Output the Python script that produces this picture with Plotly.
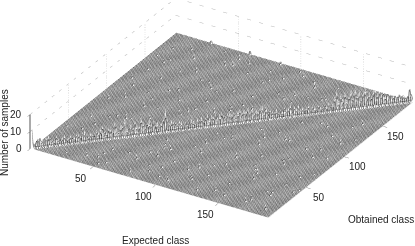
import plotly.graph_objects as go

N_CLASSES = 190
class_axis = list(range(1, N_CLASSES + 1))
class_ticks = [50, 100, 150]
count_ticks = [0, 10, 20]
expected_title = "Expected class"
obtained_title = "Obtained class"
count_title = "Number of samples"

# Diagonal of the confusion matrix, read along the ridge (190 values)
diagonal = [
    11, 3, 5, 7, 8, 5, 3, 6, 7, 5, 4, 3, 6, 4, 3, 5, 6, 3, 4, 5,
    3, 4, 6, 5, 4, 6, 7, 4, 3, 5, 4, 3, 6, 5, 7, 9, 5, 4, 7, 6,
    5, 10, 6, 4, 8, 7, 11, 5, 6, 8, 5, 9, 7, 6, 11, 8, 5, 7, 9, 6,
    8, 5, 7, 4, 6, 9, 14, 8, 5, 7, 6, 5, 4, 6, 5, 4, 5, 3, 4, 6,
    5, 4, 6, 5, 7, 4, 6, 8, 5, 7, 6, 8, 5, 7, 8, 6, 5, 7, 8, 6,
    7, 5, 8, 9, 6, 8, 7, 9, 6, 8, 5, 7, 6, 8, 9, 5, 7, 4, 6, 5,
    4, 6, 3, 5, 4, 7, 5, 6, 8, 4, 6, 5, 7, 4, 5, 3, 4, 6, 3, 5,
    4, 3, 5, 4, 3, 5, 4, 6, 3, 5, 9, 13, 6, 10, 7, 11, 6, 9, 12, 7,
    13, 8, 11, 6, 10, 12, 7, 9, 6, 10, 12, 8, 11, 7, 9, 6, 10, 7, 8, 5,
    7, 6, 8, 5, 6, 4, 5, 12, 6, 4,
]

# Samples just behind the diagonal (obtained = expected + 1), read along the ridge
behind_diagonal = [
    2, 1, 3, 0, 2, 1, 2, 0, 1, 3, 1, 0, 2, 1, 2, 0, 1, 2, 0, 1,
    3, 0, 1, 2, 1, 3, 0, 2, 1, 0, 2, 1, 3, 1, 0, 2, 3, 1, 0, 2,
    1, 3, 2, 0, 1, 4, 2, 0, 3, 1, 2, 4, 0, 1, 3, 2, 1, 4, 0, 2,
    1, 3, 0, 2, 1, 4, 3, 0, 2, 1, 0, 3, 1, 2, 0, 1, 2, 0, 3, 1,
    0, 2, 1, 3, 0, 1, 2, 3, 0, 2, 1, 3, 2, 0, 1, 3, 2, 1, 0, 2,
    3, 1, 0, 2, 3, 1, 2, 0, 3, 1, 2, 0, 1, 3, 2, 0, 1, 2, 0, 1,
    2, 0, 1, 3, 0, 2, 1, 0, 2, 3, 1, 0, 2, 1, 0, 2, 1, 0, 1, 2,
    0, 1, 2, 0, 1, 3, 0, 2, 1, 0, 3, 4, 1, 3, 2, 4, 0, 3, 4, 1,
    4, 2, 3, 1, 4, 2, 3, 1, 3, 4, 2, 1, 3, 2, 4, 1, 2, 3, 1, 2,
    0, 2, 1, 3, 0, 1, 2, 3, 1,
]

# Samples just in front of the diagonal (obtained = expected - 1)
front_diagonal = [
    1, 0, 2, 3, 0, 1, 2, 0, 3, 1, 0, 2, 1, 3, 0, 1, 2, 0, 1, 3,
    0, 2, 1, 0, 3, 1, 2, 0, 1, 2, 3, 0, 1, 2, 4, 0, 1, 3, 2, 0,
    4, 1, 2, 0, 3, 2, 1, 3, 0, 2, 4, 1, 0, 3, 2, 1, 3, 0, 2, 4,
    0, 1, 3, 2, 0, 1, 5, 2, 0, 3, 1, 2, 0, 1, 3, 0, 1, 2, 0, 1,
    3, 0, 2, 1, 0, 3, 2, 0, 1, 3, 2, 0, 1, 4, 0, 2, 3, 1, 0, 4,
    2, 0, 3, 1, 2, 0, 4, 1, 3, 0, 2, 1, 3, 0, 1, 2, 0, 3, 1, 0,
    1, 2, 0, 1, 3, 0, 1, 2, 0, 3, 1, 0, 2, 1, 0, 1, 2, 0, 1, 0,
    2, 1, 0, 2, 1, 0, 1, 3, 0, 2, 4, 1, 3, 0, 4, 2, 3, 1, 4, 2,
    5, 1, 3, 2, 4, 0, 3, 2, 1, 4, 3, 0, 2, 4, 1, 3, 0, 2, 1, 3,
    0, 1, 2, 0, 2, 1, 0, 3, 1,
]

# Off-diagonal spikes read from the floor: expected, obtained, samples
off_expected = [
    29, 60, 85, 12, 18, 25, 33, 41, 47, 52, 58, 64, 70, 77, 83, 90, 96, 103, 110, 118,
    124, 131, 139, 146, 153, 160, 168, 175, 182, 15, 22, 36, 44, 55, 62, 73, 88, 99, 107, 115,
    127, 135, 143, 151, 158, 166, 172, 179, 8, 30, 48, 66, 81, 94, 112, 129, 148, 163, 177, 186,
    20, 39, 57, 75, 92, 108, 122, 141, 156, 171, 10, 27, 50, 68, 86, 101, 120, 137, 155, 174,
    5, 14, 23, 31, 38, 45, 53, 61, 69, 76, 84, 91, 98, 105, 113, 121, 128, 136, 144, 152,
    159, 167, 176, 184, 9, 17, 26, 34, 43, 51, 59, 67, 74, 82, 89, 97, 104, 111, 119, 126,
    134, 142, 149, 157, 165, 173, 181, 188, 6, 16, 28, 37, 46, 56, 65, 72, 80, 87, 95, 102,
    109, 117, 125, 133, 140, 147, 154, 162, 170, 178, 185, 11, 24, 35, 49, 63, 78, 93, 106, 116,
]
off_obtained = [
    189, 189, 188, 60, 95, 130, 40, 150, 20, 110, 170, 75, 25, 140, 48, 165, 12, 55, 128, 178,
    30, 85, 15, 100, 42, 70, 120, 28, 10, 150, 175, 90, 122, 10, 135, 38, 160, 68, 182, 22,
    62, 160, 100, 50, 130, 18, 88, 60, 120, 165, 78, 178, 108, 35, 148, 95, 12, 55, 145, 40,
    52, 118, 180, 8, 140, 30, 172, 72, 165, 100, 170, 70, 142, 105, 15, 125, 44, 162, 185, 32,
    40, 112, 66, 145, 12, 93, 168, 30, 118, 52, 176, 24, 84, 152, 36, 104, 9, 180, 58, 132,
    78, 16, 46, 124, 88, 155, 34, 70, 184, 6, 98, 134, 58, 22, 116, 172, 10, 82, 146, 50,
    106, 28, 164, 74, 12, 138, 92, 44, 156, 42, 108, 72, 14, 142, 100, 166, 36, 120, 60, 186,
    86, 20, 158, 44, 126, 54, 176, 96, 32, 114, 68, 136, 8, 102, 28, 94, 48, 126, 80, 156,
]
off_counts = [
    3, 4, 3, 2, 3, 2, 2, 3, 2, 2, 3, 2, 3, 2, 3, 2, 2, 3, 2, 2,
    2, 3, 2, 2, 3, 2, 2, 2, 3, 2, 2, 3, 2, 2, 3, 2, 2, 3, 2, 2,
    3, 2, 2, 3, 2, 2, 3, 2, 2, 3, 2, 2, 3, 2, 2, 3, 2, 2, 3, 2,
    2, 2, 3, 2, 2, 2, 3, 2, 2, 2, 1, 2, 1, 2, 1, 2, 1, 2, 1, 2,
    1, 2, 1, 1, 2, 1, 3, 1, 2, 1, 1, 2, 1, 1, 3, 1, 2, 1, 1, 2,
    1, 2, 1, 1, 2, 1, 1, 3, 1, 2, 1, 1, 2, 1, 1, 2, 3, 1, 1, 2,
    1, 1, 2, 1, 3, 1, 2, 1, 1, 2, 1, 1, 2, 1, 2, 1, 3, 1, 1, 2,
    1, 2, 1, 1, 2, 1, 1, 2, 1, 3, 1, 2, 1, 1, 2, 1, 1, 2, 1, 3,
]

matrix = [[0 for _ in class_axis] for _ in class_axis]
for i, v in enumerate(diagonal):
    matrix[i][i] = v
for i, v in enumerate(behind_diagonal):
    matrix[i + 1][i] = v
for i, v in enumerate(front_diagonal):
    matrix[i][i + 1] = v
for e, o, c in zip(off_expected, off_obtained, off_counts):
    matrix[o - 1][e - 1] = c

fig = go.Figure()
fig.add_trace(go.Surface(
    x=class_axis, y=class_axis, z=matrix,
    colorscale=[[0, "#ffffff"], [1, "#ffffff"]], showscale=False,
    lighting=dict(ambient=1, diffuse=0, specular=0, roughness=1, fresnel=0),
    contours=dict(
        x=dict(show=True, start=1, end=N_CLASSES, size=1, color="#3c3c3c", width=1),
        y=dict(show=True, start=1, end=N_CLASSES, size=1, color="#a8a8a8", width=1),
        z=dict(show=False),
    ),
    hoverinfo="skip",
))

# Dotted walls
gx, gy, gz = [], [], []
for t in class_ticks:
    gx += [0, 0, None, t, t, None]
    gy += [t, t, None, N_CLASSES, N_CLASSES, None]
    gz += [0, 20, None, 0, 20, None]
for level in count_ticks[1:]:
    gx += [0, 0, N_CLASSES, None]
    gy += [0, N_CLASSES, N_CLASSES, None]
    gz += [level, level, level, None]
fig.add_trace(go.Scatter3d(x=gx, y=gy, z=gz, mode="lines",
                           line=dict(color="#b4b4b4", width=1, dash="dot"),
                           hoverinfo="skip", showlegend=False))
fig.add_trace(go.Scatter3d(x=[0, 0], y=[0, 0], z=[0, 20], mode="lines",
                           line=dict(color="#555555", width=2),
                           hoverinfo="skip", showlegend=False))

def axis(rng, ticks):
    return dict(range=rng, tickvals=ticks, showticklabels=False,
                showgrid=False, zeroline=False, showbackground=False, showline=False,
                ticks="outside", ticklen=5, tickcolor="#777777", tickwidth=1,
                showspikes=False, title=dict(text=""))

font = dict(family="Liberation Sans", size=10, color="#222222")
tick_labels = (
    [dict(x=t, y=0, z=0, text=str(t), showarrow=False, font=font, xshift=-12, yshift=-11) for t in class_ticks]
    + [dict(x=N_CLASSES, y=t, z=0, text=str(t), showarrow=False, font=font, xshift=13, yshift=-10) for t in class_ticks]
    + [dict(x=0, y=0, z=t, text=str(t), showarrow=False, font=font, xanchor="right", xshift=-6) for t in count_ticks]
)

fig.update_layout(
    width=415, height=246, margin=dict(l=0, r=0, t=0, b=0),
    paper_bgcolor="white", showlegend=False,
    scene=dict(
        domain=dict(x=[0, 1], y=[0, 1]),
        xaxis=axis([0, N_CLASSES], class_ticks),
        yaxis=axis([0, N_CLASSES], class_ticks),
        zaxis=axis([0, 20], count_ticks),
        aspectmode="manual", aspectratio=dict(x=2.26, y=2.29, z=0.318),
        camera=dict(
            projection=dict(type="orthographic"),
            eye=dict(x=0.824, y=-1.59, z=0.847),
            center=dict(x=-0.1, y=-0.06, z=-0.138),
            up=dict(x=0, y=0, z=1),
        ),
        annotations=tick_labels,
    ),
    annotations=[
        dict(text=expected_title, x=155/415, y=1-240/246, xref="paper", yref="paper", showarrow=False,
             xanchor="center", yanchor="middle", font=font),
        dict(text=obtained_title, x=381/415, y=1-219/246, xref="paper", yref="paper", showarrow=False,
             xanchor="center", yanchor="middle", font=font),
        dict(text=count_title, x=4/415, y=1-133/246, xref="paper", yref="paper", showarrow=False, textangle=-90,
             xanchor="center", yanchor="middle", font=font),
    ],
)
fig.write_html("out.html", config=dict(displayModeBar=False),
               post_script="document.body.style.margin='0';document.body.style.overflow='hidden';")
